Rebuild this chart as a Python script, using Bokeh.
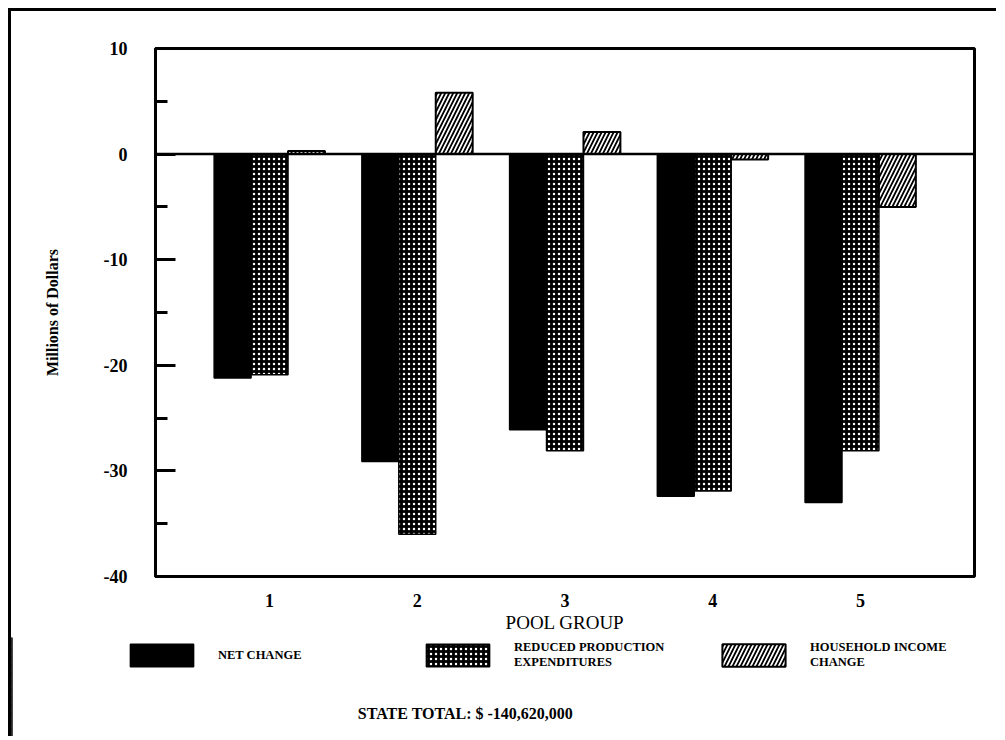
from bokeh.plotting import figure
from bokeh.layouts import column
from bokeh.models import (ColumnDataSource, FixedTicker, Span, Legend, LegendItem, Label)
from bokeh.transform import dodge
from bokeh.embed import file_html
from bokeh.resources import INLINE

# ---- data ----
pool_groups = [1, 2, 3, 4, 5]
net_change = [-21.2, -29.1, -26.1, -32.4, -33.0]
reduced_production = [-20.9, -36.0, -28.1, -31.9, -28.1]
household_income = [0.3, 5.8, 2.1, -0.5, -5.0]
y_ticks = [-40, -30, -20, -10, 0, 10]
y_minor_ticks = [-35, -25, -15, -5, 5]
series_labels = ["NET CHANGE", "REDUCED PRODUCTION\nEXPENDITURES", "HOUSEHOLD INCOME\nCHANGE"]
x_axis_title = "POOL GROUP"
y_axis_title = "Millions of Dollars"
state_total = "STATE TOTAL: $ -140,620,000"

FONT = "Liberation Serif"
OFF = 11  # page offset of the drawing (room for the outer frame line)

styles = [
    dict(fill_color="black", line_color="black", line_width=1.5),
    dict(fill_color="black", hatch_pattern="dot", hatch_color="white",
         hatch_scale=5, hatch_weight=3, line_color="black", line_width=1.5),
    dict(fill_color="white", hatch_pattern="right_diagonal_line", hatch_color="black",
         hatch_scale=8, hatch_weight=1.8, line_color="black", line_width=2),
]

src = ColumnDataSource(dict(x=pool_groups, net=net_change,
                            red=reduced_production, hh=household_income))

W, H1, H2 = 988, 626, 99
p = figure(width=W, height=H1, x_range=(0.228, 5.772), y_range=(-40, 10),
           output_backend="svg", toolbar_location=None,
           min_border_left=155 - OFF, min_border_right=W - (974 - OFF),
           min_border_top=48 - OFF, min_border_bottom=H1 - (576 - OFF))
p.frame_align = False
p.styles = {"box-shadow": "-3px -3px 0px 0px black, -3px 0px 0px 0px black"}
p.xgrid.visible = False
p.ygrid.visible = False
p.outline_line_color = "black"
p.outline_line_width = 3
p.outline_line_alpha = 1
p.background_fill_color = "white"
p.border_fill_color = "white"

p.vbar(x=dodge("x", -0.25, range=p.x_range), top="net", bottom=0, width=0.25,
       source=src, **styles[0])
p.vbar(x="x", top="red", bottom=0, width=0.25, source=src, **styles[1])
p.vbar(x=dodge("x", 0.25, range=p.x_range), top="hh", bottom=0, width=0.25,
       source=src, **styles[2])

p.add_layout(Span(location=0, dimension="width", line_color="black", line_width=2.5))

# y axis
p.yaxis.ticker = FixedTicker(ticks=y_ticks, minor_ticks=y_minor_ticks)
p.yaxis.major_label_overrides = {t: str(t) for t in y_ticks}
p.yaxis.axis_line_width = 3
p.yaxis.major_tick_in = 20
p.yaxis.major_tick_out = 0
p.yaxis.minor_tick_in = 12
p.yaxis.minor_tick_out = 0
p.yaxis.major_tick_line_width = 3
p.yaxis.minor_tick_line_width = 3
p.yaxis.major_label_standoff = 28
p.yaxis.major_label_text_font = FONT
p.yaxis.major_label_text_font_size = "18px"
p.yaxis.major_label_text_font_style = "bold"
p.yaxis.major_label_text_color = "black"
p.yaxis.axis_label = y_axis_title
p.yaxis.axis_label_text_font = FONT
p.yaxis.axis_label_text_font_size = "16px"
p.yaxis.axis_label_text_font_style = "bold"
p.yaxis.axis_label_text_color = "black"
p.yaxis.axis_label_standoff = 40

# x axis
p.xaxis.ticker = FixedTicker(ticks=pool_groups, minor_ticks=[])
p.xaxis.axis_line_width = 3
p.xaxis.major_tick_in = 0
p.xaxis.major_tick_out = 0
p.xaxis.minor_tick_in = 0
p.xaxis.minor_tick_out = 0
p.xaxis.major_label_standoff = 17
p.xaxis.major_label_text_font = FONT
p.xaxis.major_label_text_font_size = "18px"
p.xaxis.major_label_text_font_style = "bold"
p.xaxis.major_label_text_color = "black"
p.xaxis.axis_label = x_axis_title
p.xaxis.axis_label_text_font = FONT
p.xaxis.axis_label_text_font_size = "19px"
p.xaxis.axis_label_text_font_style = "normal"
p.xaxis.axis_label_text_color = "black"
p.xaxis.axis_label_standoff = 2

# ---- legend + state total strip (its frame spans the whole strip) ----
q = figure(width=W, height=H2, x_range=(0, 1), y_range=(0, 1),
           output_backend="svg", toolbar_location=None,
           x_axis_location=None, y_axis_location=None,
           min_border=0, min_border_left=0, min_border_right=0,
           min_border_top=0, min_border_bottom=0)
q.frame_align = False
q.styles = {"box-shadow": "-3px 0px 0px 0px black"}
q.xgrid.visible = False
q.ygrid.visible = False
q.outline_line_color = None
q.background_fill_color = "white"
q.border_fill_color = "white"

# swatch renderers for the legend (their single bar lies outside the visible range)
swatches = [q.vbar(x=[-5], top=[1], bottom=[0], width=0.1, **st) for st in styles]
items = [LegendItem(label=lab, renderers=[r]) for lab, r in zip(series_labels, swatches)]
leg = Legend(items=items, location=(111, 66), orientation="horizontal",
             glyph_width=79, glyph_height=28, label_standoff=17, label_width=154,
             spacing=46, padding=0, margin=0, border_line_alpha=0,
             background_fill_alpha=0, label_text_font=FONT,
             label_text_font_size="12.5px", label_text_font_style="bold",
             label_text_color="black", label_text_line_height=1.2)
q.add_layout(leg)

q.add_layout(Label(x=454, y=23, x_units="screen", y_units="screen", text=state_total,
                   text_align="center", text_baseline="middle",
                   text_font=FONT, text_font_size="16px", text_font_style="bold",
                   text_color="black"))

layout = column(p, q, spacing=0)
layout.margin = (OFF, 0, 0, OFF)

open("out.html", "w").write(file_html(layout, INLINE, title="Pool group changes"))
